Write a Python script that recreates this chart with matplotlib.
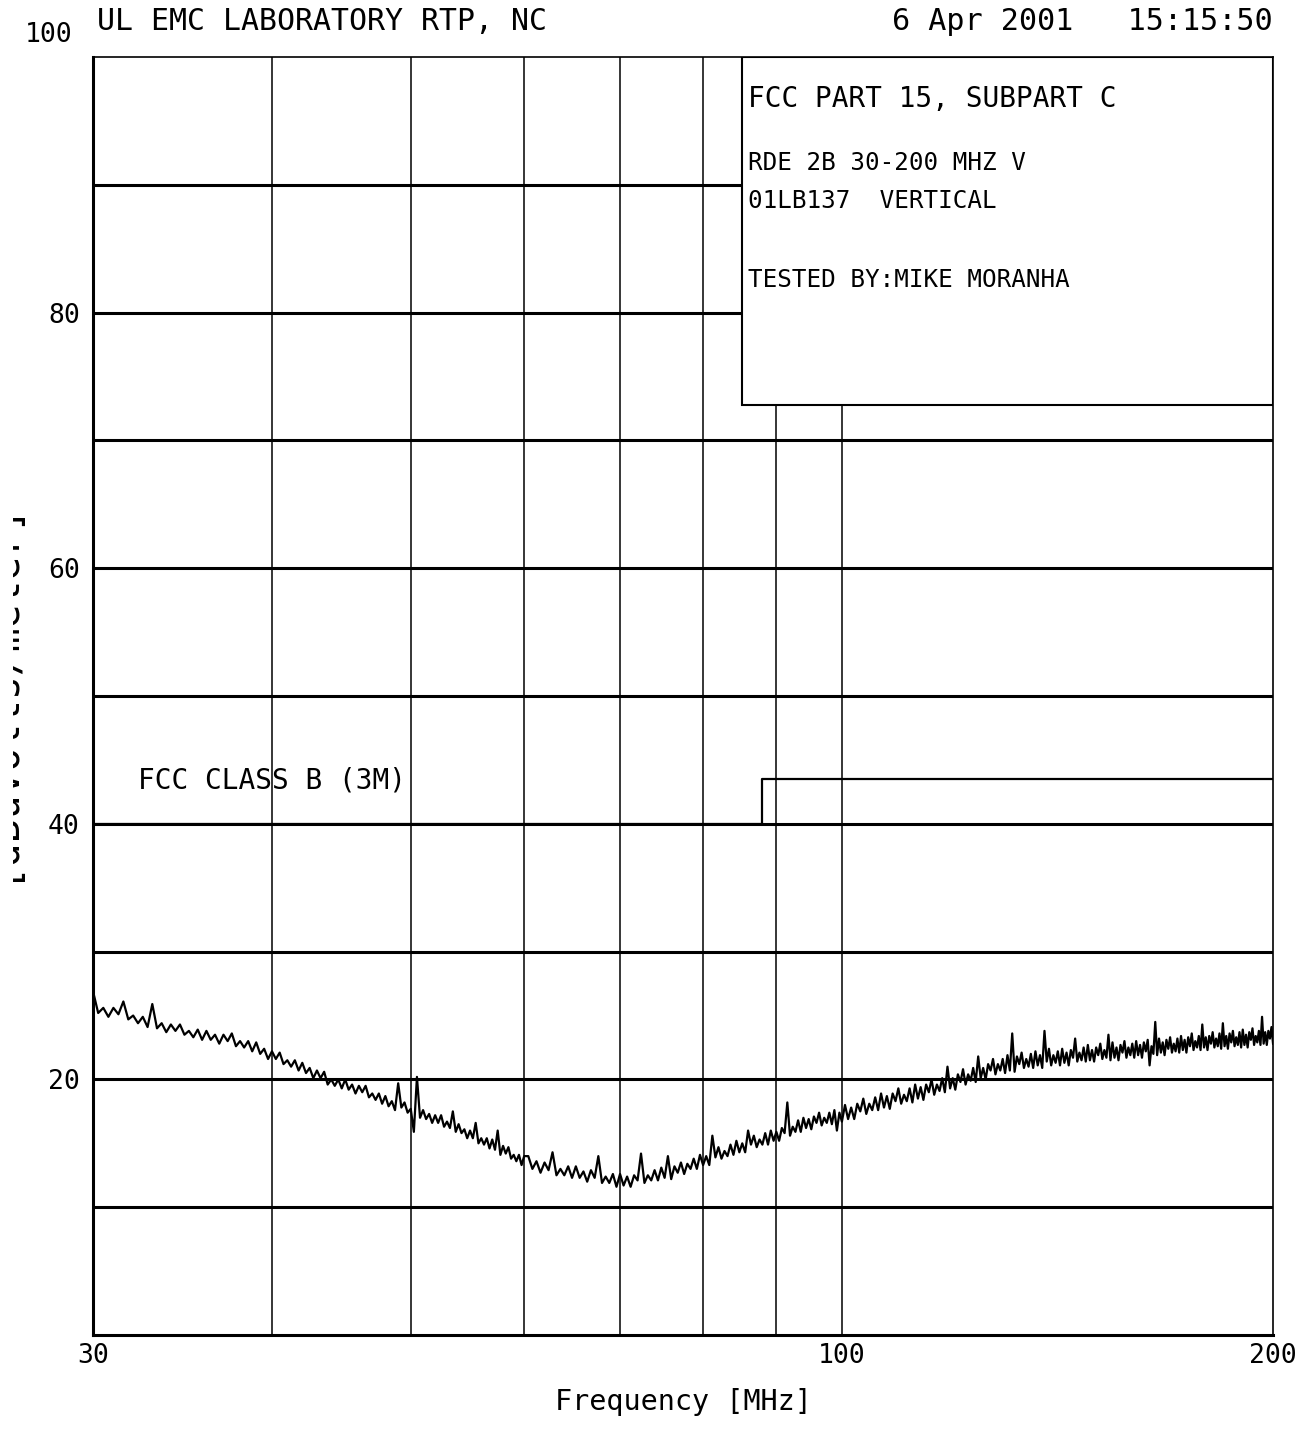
import matplotlib
matplotlib.use('Agg')
import matplotlib.pyplot as plt
from matplotlib.patches import Rectangle
from matplotlib.transforms import Bbox

plt.rcParams['font.family'] = ['DejaVu Sans Mono', 'DejaVu Sans']

# sweep readings, MHz / dBuV/m
freq_a = [30.0, 30.25, 30.5, 30.75, 31.0, 31.25, 31.5, 31.75, 32.0, 32.25,
          32.5, 32.75, 33.0, 33.25, 33.5, 33.75, 34.0, 34.25, 34.5, 34.75,
          35.0, 35.25, 35.5, 35.75, 36.0, 36.25, 36.5, 36.75, 37.0, 37.25,
          37.5, 37.75, 38.0, 38.25, 38.5, 38.75, 39.0, 39.25, 39.5, 39.75,
          40.0, 40.25, 40.5, 40.75, 41.0, 41.25, 41.5, 41.75, 42.0, 42.25,
          42.5, 42.75, 43.0, 43.25, 43.5, 43.75, 44.0, 44.25, 44.5, 44.75,
          45.0, 45.25, 45.5, 45.75, 46.0, 46.25, 46.5, 46.75, 47.0, 47.25,
          47.5, 47.75, 48.0, 48.25, 48.5, 48.75, 49.0, 49.25, 49.5, 49.75,
          50.0, 50.25, 50.5, 50.75, 51.0, 51.25, 51.5, 51.75, 52.0, 52.25,
          52.5, 52.75, 53.0, 53.25, 53.5, 53.75, 54.0, 54.25, 54.5, 54.75,
          55.0, 55.25, 55.5, 55.75, 56.0, 56.25, 56.5, 56.75, 57.0, 57.25,
          57.5, 57.75, 58.0, 58.25, 58.5, 58.75, 59.0, 59.25, 59.5, 59.75,
          60.0]
level_a = [26.9, 25.2, 25.6, 24.9, 25.6, 25.1, 26.1, 24.7, 25.0, 24.4,
           24.9, 24.1, 25.9, 24.0, 24.4, 23.7, 24.3, 23.8, 24.3, 23.5,
           23.8, 23.3, 23.9, 23.1, 23.8, 23.1, 23.5, 22.8, 23.5, 23.0,
           23.6, 22.6, 23.0, 22.5, 23.0, 22.2, 22.9, 22.0, 22.4, 21.6,
           22.2, 21.6, 22.1, 21.2, 21.5, 21.0, 21.5, 20.7, 21.3, 20.5,
           20.9, 20.1, 20.7, 20.1, 20.6, 19.6, 20.0, 19.5, 20.0, 19.3,
           20.0, 19.2, 19.6, 18.9, 19.5, 19.0, 19.5, 18.6, 18.9, 18.4,
           18.9, 18.1, 18.7, 17.9, 18.3, 17.6, 19.7, 17.8, 18.2, 17.4,
           17.7, 15.9, 20.2, 17.0, 17.6, 16.9, 17.3, 16.6, 17.2, 16.6,
           17.2, 16.3, 16.7, 16.2, 17.5, 15.9, 16.5, 15.8, 16.1, 15.4,
           16.0, 15.4, 16.6, 15.0, 15.4, 14.9, 15.4, 14.6, 15.3, 14.5,
           16.0, 14.1, 14.8, 14.2, 14.7, 13.8, 14.1, 13.6, 14.1, 13.3,
           14.0]

freq_b = [60.4, 60.8, 61.2, 61.6, 62.0, 62.4, 62.8, 63.2, 63.6, 64.0,
          64.4, 64.8, 65.2, 65.6, 66.0, 66.4, 66.8, 67.2, 67.6, 68.0,
          68.4, 68.8, 69.2, 69.6, 70.0, 70.4, 70.8, 71.2, 71.6, 72.0,
          72.4, 72.8, 73.2, 73.6, 74.0, 74.4, 74.8, 75.2, 75.6, 76.0,
          76.4, 76.8, 77.2, 77.6, 78.0, 78.4, 78.8, 79.2, 79.6, 80.0,
          80.4, 80.8, 81.2, 81.6, 82.0, 82.4, 82.8, 83.2, 83.6, 84.0,
          84.4, 84.8, 85.2, 85.6, 86.0, 86.4, 86.8, 87.2, 87.6, 88.0,
          88.4, 88.8, 89.2, 89.6, 90.0, 90.4, 90.8, 91.2, 91.6, 92.0,
          92.4, 92.8, 93.2, 93.6, 94.0, 94.4, 94.8, 95.2, 95.6, 96.0,
          96.4, 96.8, 97.2, 97.6, 98.0, 98.4, 98.8, 99.2, 99.6, 100.0]
level_b = [14.0, 13.0, 13.6, 12.7, 13.5, 12.9, 14.3, 12.5, 13.0, 12.5,
           13.2, 12.3, 13.2, 12.3, 12.8, 12.0, 12.9, 12.3, 14.0, 11.9,
           12.4, 11.9, 12.6, 11.6, 12.6, 11.7, 12.4, 11.6, 12.5, 12.1,
           14.2, 11.9, 12.5, 12.1, 12.9, 12.1, 13.1, 12.3, 14.0, 12.2,
           13.2, 12.7, 13.5, 12.6, 13.4, 13.0, 13.8, 13.0, 14.1, 13.3,
           14.0, 13.3, 15.6, 13.9, 14.7, 13.8, 14.4, 14.0, 14.9, 14.1,
           15.2, 14.3, 15.0, 14.3, 16.0, 14.9, 15.6, 14.7, 15.3, 14.9,
           15.8, 14.9, 16.0, 15.2, 15.9, 15.2, 16.2, 15.8, 18.2, 15.6,
           16.3, 15.9, 16.8, 15.9, 17.0, 16.2, 16.9, 16.1, 17.1, 16.6,
           17.4, 16.4, 17.0, 16.6, 17.4, 16.5, 17.6, 16.0, 17.4, 16.7]

freq_c = [100.5, 101.0, 101.5, 102.0, 102.5, 103.0, 103.5, 104.0, 104.5, 105.0,
          105.5, 106.0, 106.5, 107.0, 107.5, 108.0, 108.5, 109.0, 109.5, 110.0,
          110.5, 111.0, 111.5, 112.0, 112.5, 113.0, 113.5, 114.0, 114.5, 115.0,
          115.5, 116.0, 116.5, 117.0, 117.5, 118.0, 118.5, 119.0, 119.5, 120.0,
          120.5, 121.0, 121.5, 122.0, 122.5, 123.0, 123.5, 124.0, 124.5, 125.0,
          125.5, 126.0, 126.5, 127.0, 127.5, 128.0, 128.5, 129.0, 129.5, 130.0,
          130.5, 131.0, 131.5, 132.0, 132.5, 133.0, 133.5, 134.0, 134.5, 135.0,
          135.5, 136.0, 136.5, 137.0, 137.5, 138.0, 138.5, 139.0, 139.5, 140.0,
          140.5, 141.0, 141.5, 142.0, 142.5, 143.0, 143.5, 144.0, 144.5, 145.0,
          145.5, 146.0, 146.5, 147.0, 147.5, 148.0, 148.5, 149.0, 149.5, 150.0,
          150.5, 151.0, 151.5, 152.0, 152.5, 153.0, 153.5, 154.0, 154.5, 155.0,
          155.5, 156.0, 156.5, 157.0, 157.5, 158.0, 158.5, 159.0, 159.5, 160.0,
          160.5, 161.0, 161.5, 162.0, 162.5, 163.0, 163.5, 164.0, 164.5, 165.0,
          165.5, 166.0, 166.5, 167.0, 167.5, 168.0, 168.5, 169.0, 169.5, 170.0,
          170.5, 171.0, 171.5, 172.0, 172.5, 173.0, 173.5, 174.0, 174.5, 175.0,
          175.5, 176.0, 176.5, 177.0, 177.5, 178.0, 178.5, 179.0, 179.5, 180.0,
          180.5, 181.0, 181.5, 182.0, 182.5, 183.0, 183.5, 184.0, 184.5, 185.0,
          185.5, 186.0, 186.5, 187.0, 187.5, 188.0, 188.5, 189.0, 189.5, 190.0,
          190.5, 191.0, 191.5, 192.0, 192.5, 193.0, 193.5, 194.0, 194.5, 195.0,
          195.5, 196.0, 196.5, 197.0, 197.5, 198.0, 198.5, 199.0, 199.5, 200.0]
level_c = [18.0, 16.9, 17.8, 16.9, 18.1, 17.5, 18.5, 17.3, 18.1, 17.6,
           18.6, 17.6, 18.9, 17.8, 18.7, 17.7, 18.9, 18.3, 19.3, 18.1,
           18.8, 18.3, 19.3, 18.2, 19.6, 18.5, 19.4, 18.4, 19.6, 19.0,
           20.0, 18.8, 19.6, 19.1, 20.1, 19.0, 21.0, 19.3, 20.1, 19.2,
           20.4, 19.8, 20.8, 19.6, 20.4, 19.9, 20.9, 19.8, 21.8, 20.1,
           20.9, 20.0, 21.2, 20.7, 21.6, 20.4, 21.2, 20.7, 21.6, 20.5,
           21.9, 20.7, 23.6, 20.6, 21.8, 21.2, 22.1, 20.9, 21.6, 21.0,
           22.0, 20.9, 22.2, 21.1, 21.9, 20.9, 23.8, 21.4, 22.4, 21.1,
           21.9, 21.3, 22.2, 21.1, 22.4, 21.3, 22.1, 21.1, 22.3, 21.7,
           23.2, 21.4, 22.1, 21.5, 22.5, 21.4, 22.7, 21.5, 22.3, 21.4,
           22.5, 21.9, 22.8, 21.6, 22.3, 21.7, 23.5, 21.5, 22.9, 21.7,
           22.5, 21.5, 22.7, 22.1, 23.0, 21.7, 22.5, 21.9, 22.8, 21.7,
           23.0, 21.9, 22.7, 21.7, 22.9, 22.2, 23.1, 21.1, 22.6, 22.0,
           24.5, 21.9, 23.2, 22.1, 22.9, 21.9, 23.1, 22.4, 23.3, 22.1,
           22.8, 22.2, 23.2, 22.1, 23.4, 22.3, 23.1, 22.1, 23.3, 22.6,
           23.6, 22.3, 23.0, 22.5, 23.4, 22.3, 24.3, 22.5, 23.3, 22.3,
           23.4, 22.8, 23.7, 22.5, 23.2, 22.6, 23.6, 22.4, 24.4, 22.6,
           23.4, 22.4, 23.6, 22.9, 23.8, 22.6, 23.3, 22.7, 23.7, 22.5,
           23.9, 22.7, 23.5, 22.5, 23.7, 23.1, 24.0, 22.7, 23.4, 22.9,
           23.8, 22.7, 24.9, 22.8, 23.7, 22.7, 23.8, 23.2, 24.1, 22.8]

# FCC class B (3 m) limit
limit_freq = [30, 88, 88, 200]
limit_level = [40, 40, 43.5, 43.5]

grid_freqs = [40, 50, 60, 70, 80, 90, 100]
grid_levels = [10, 20, 30, 40, 50, 60, 70, 80, 90]
xtick_vals = [30, 100, 200]
ytick_vals = [20, 40, 60, 80]

box_lines = ['FCC PART 15, SUBPART C', 'RDE 2B 30-200 MHZ V',
             '01LB137  VERTICAL', 'TESTED BY:MIKE MORANHA']

freq = freq_a + freq_b + freq_c
level = level_a + level_b + level_c

fig = plt.figure(figsize=(13.12, 14.45), dpi=100)
ax = fig.add_axes([0.0709, 0.0761, 0.8994, 0.8844])
ax.set_xscale('log')
ax.set_xlim(30, 200)
ax.set_ylim(0, 100)

for g in grid_levels:
    ax.axhline(g, color='black', lw=2.2, zorder=1)
for g in grid_freqs:
    ax.axvline(g, color='black', lw=1.1, zorder=1)

ax.plot(limit_freq, limit_level, color='black', lw=1.6, zorder=2)
ax.plot(freq, level, color='black', lw=1.6, zorder=2)

# title block in the upper right corner
ax.add_patch(Rectangle((0.55, 0.7277), 0.45, 0.2723, transform=ax.transAxes,
                       facecolor='white', edgecolor='black', lw=1.5, zorder=3))
ax.text(0.555, 0.9609, box_lines[0], transform=ax.transAxes, fontsize=20,
        va='baseline', zorder=4)
ax.text(0.555, 0.9116, box_lines[1], transform=ax.transAxes, fontsize=17.5,
        va='baseline', zorder=4)
ax.text(0.555, 0.8818, box_lines[2], transform=ax.transAxes, fontsize=17.5,
        va='baseline', zorder=4)
ax.text(0.555, 0.820, box_lines[3], transform=ax.transAxes, fontsize=17.5,
        va='baseline', zorder=4)

ax.text(0.0381, 0.428, 'FCC CLASS B (3M)', transform=ax.transAxes,
        fontsize=20, va='baseline', zorder=4)

ax.set_xticks(xtick_vals)
ax.set_xticklabels([str(v) for v in xtick_vals])
ax.xaxis.set_minor_locator(plt.NullLocator())
ax.set_yticks(ytick_vals)
ax.set_yticklabels([str(v) for v in ytick_vals])
ax.tick_params(axis='both', length=0, labelsize=19)
ax.tick_params(axis='x', pad=6)
ax.tick_params(axis='y', pad=9.5)
ax.annotate('100', xy=(0, 100), xycoords=ax.get_yaxis_transform(),
            xytext=(-15, 11), textcoords='offset points',
            ha='right', va='baseline', fontsize=19)

for side in ['left', 'bottom']:
    ax.spines[side].set_linewidth(2.2)
for side in ['top', 'right']:
    ax.spines[side].set_linewidth(1.2)

fig.text(0.0739, 0.9792, 'UL EMC LABORATORY RTP, NC', fontsize=21.5,
         va='baseline')
fig.text(0.9703, 0.9792, '6 Apr 2001   15:15:50', fontsize=21.7,
         va='baseline', ha='right')
fig.text(0.5206, 0.0242, 'Frequency [MHz]', fontsize=20.5,
         va='baseline', ha='center')

# y label runs off the left edge in the original plot, only its foot shows
ylab = fig.text(11 / 1312, 1 - 690 / 1445, '[dBuVolts/meter]', fontsize=28.5,
                rotation=90, rotation_mode='anchor', ha='center',
                va='baseline')
ylab.set_clip_box(Bbox.from_extents(13, 0, 1312, 1445))
ylab.set_clip_on(True)

fig.savefig('out.png', dpi=100)
